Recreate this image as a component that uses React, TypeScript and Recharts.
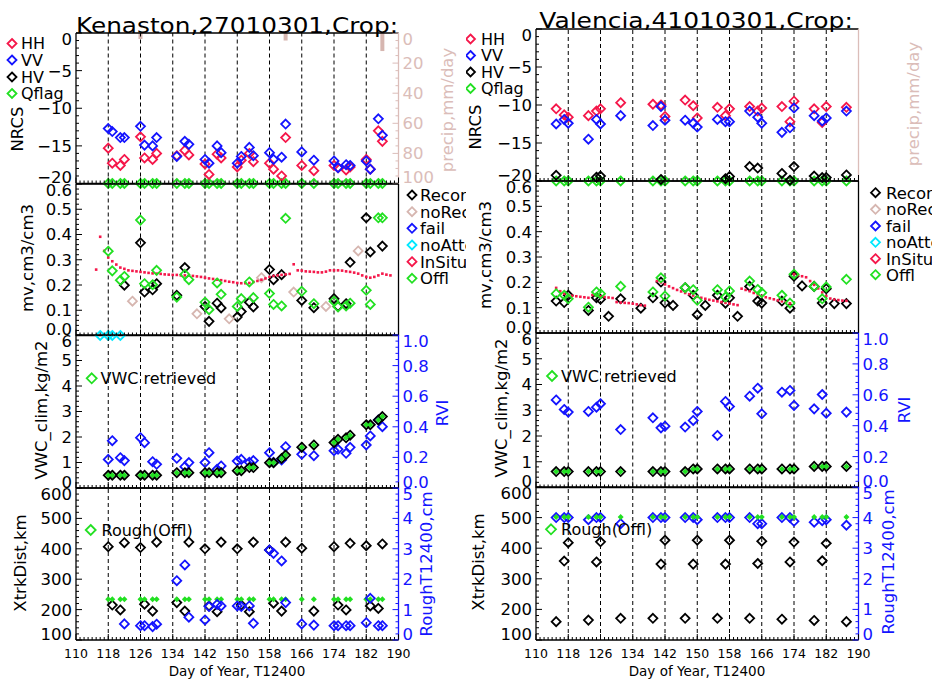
import React from 'react';
import { ComposedChart, Scatter, Bar, XAxis, YAxis, ReferenceLine } from 'recharts';

const FONT = 'DejaVu Sans, sans-serif';
const RED = '#f5174a';
const BLUE = '#1414ff';
const GREEN = '#22e022';
const CYAN = '#00e8ff';
const TAN = '#d6b6b0';
const PINK = '#dbbdb9';
const COL_W = 466;

// dashed day markers
const DASH_DAYS = [118, 126, 134, 142, 150, 158, 166, 174, 182];

// ---------- Kenaston (left) ----------
const KEN_DAYS = [118, 119, 121, 122, 126, 127, 129, 130, 135, 137, 138, 142, 143, 145, 146, 150, 151, 153, 154, 158, 159, 161, 162, 166, 169, 174, 175, 177, 178, 182, 183, 185, 186];
const KEN_HH = [-15.3, -17.3, -17.6, -16.8, -13.8, -16.6, -16.8, -16.0, -16.3, -15.6, -16.2, -17.4, -18.8, -16.1, -16.6, -17.8, -16.9, -16.0, -17.1, -17.3, -18.1, -19.0, -13.9, -17.6, -18.3, -17.6, -17.9, -18.2, -17.8, -16.8, -18.1, -13.0, -14.4];
const KEN_VV = [-12.7, -13.1, -13.9, -13.9, -12.4, -14.9, -15.0, -13.9, -16.4, -14.4, -14.8, -16.8, -17.3, -15.0, -15.9, -17.3, -16.4, -15.2, -16.3, -15.9, -16.8, -16.5, -12.1, -15.8, -16.9, -17.0, -17.9, -17.5, -17.6, -17.0, -18.1, -11.4, -13.6];
const KEN_QFLAG = [-20, -20, -20, -20, -20, -20, -20, -20, -20, -20, -20, -20, -20, -20, -20, -20, -20, -20, -20, -20, -20, -20, -20, -20, -20, -20, -20, -20, -20, -20, -20, -20, -20];
const KEN_PRECIP_DAYS = [126, 162, 186];
const KEN_PRECIP = [4, 5, 12];

const KEN_RECON_DAYS = [122, 126, 127, 129, 130, 135, 137, 142, 143, 145, 146, 150, 151, 153, 154, 158, 159, 161, 166, 169, 174, 175, 177, 178, 182, 183, 186];
const KEN_RECON = [0.199, 0.367, 0.172, 0.181, 0.205, 0.159, 0.269, 0.115, 0.056, 0.128, 0.109, 0.073, 0.095, 0.132, 0.113, 0.261, 0.221, 0.241, 0.139, 0.11, 0.146, 0.115, 0.126, 0.29, 0.466, 0.331, 0.354];
const KEN_NOREC_DAYS = [124, 140, 148, 156, 164, 172, 180];
const KEN_NOREC = [0.136, 0.086, 0.066, 0.229, 0.172, 0.115, 0.335];
const KEN_NOATT_DAYS = [116, 118, 119, 121];
const KEN_NOATT = [0, 0, 0, 0];
const KEN_OFFL = [0.334, 0.256, 0.219, 0.234, 0.457, 0.205, 0.201, 0.258, 0.152, 0.242, 0.221, 0.132, 0.102, 0.208, 0.163, 0.115, 0.146, 0.212, 0.15, 0.166, 0.123, 0.117, 0.464, 0.175, 0.126, 0.136, 0.113, 0.117, 0.128, 0.179, 0.123, 0.466, 0.466];
const KEN_INSITU_DAYS = [
  115, 116, 117, 118, 119, 120, 121, 122, 123, 124, 125, 126, 127, 128, 129, 130, 131, 132, 133, 134,
  135, 136, 137, 138, 139, 140, 141, 142, 143, 144, 145, 146, 147, 148, 149, 150, 151, 152, 153, 154,
  155, 156, 157, 158, 159, 160, 161, 162, 163, 164, 165, 166, 167, 168, 169, 170, 171, 172, 173, 174,
  175, 176, 177, 178, 179, 180, 181, 182, 183, 184, 185, 186, 187, 188,
];
const KEN_INSITU = [
  0.261, 0.391, 0.335, 0.309, 0.294, 0.281, 0.269, 0.264, 0.258, 0.256, 0.254, 0.252, 0.25, 0.248, 0.246, 0.245, 0.244, 0.242, 0.241, 0.24,
  0.24, 0.238, 0.238, 0.237, 0.236, 0.234, 0.232, 0.229, 0.226, 0.224, 0.221, 0.219, 0.216, 0.213, 0.211, 0.208, 0.207, 0.207, 0.208, 0.212,
  0.216, 0.221, 0.226, 0.232, 0.236, 0.238, 0.24, 0.242, 0.244, 0.282, 0.258, 0.257, 0.254, 0.253, 0.252, 0.25, 0.25, 0.253, 0.258, 0.258,
  0.258, 0.257, 0.254, 0.252, 0.249, 0.245, 0.238, 0.232, 0.229, 0.232, 0.238, 0.245, 0.241, 0.238,
];

const KEN_VWC = [0.5, 0.5, 0.5, 0.5, 0.5, 0.5, 0.5, 0.5, 0.6, 0.6, 0.6, 0.6, 0.6, 0.6, 0.6, 0.68, 0.68, 0.8, 0.8, 0.99, 0.99, 1.16, 1.29, 1.6, 1.69, 1.78, 1.91, 1.97, 2.07, 2.48, 2.48, 2.67, 2.8];
const KEN_RVI = [0.187, 0.309, 0.198, 0.179, 0.329, 0.296, 0.172, 0.155, 0.194, 0.139, 0.166, 0.166, 0.231, 0.122, 0.144, 0.176, 0.187, 0.168, 0.179, 0.231, 0.168, 0.183, 0.27, 0.22, 0.211, 0.244, 0.253, 0.227, 0.266, 0.281, 0.34, 0.444, 0.401];

const KEN_XTRK = [407, 215, 199, 420, 404, 218, 195, 422, 223, 195, 422, 400, 212, 193, 422, 400, 215, 193, 422, 396, 221, 195, 422, 402, 195, 407, 215, 199, 418, 410, 212, 204, 416];
const KEN_ROUGH_DAYS = [122, 126, 127, 129, 130, 135, 137, 138, 142, 143, 145, 146, 150, 151, 153, 154, 158, 159, 161, 162, 166, 169, 174, 175, 177, 178, 182, 183, 185, 186];
const KEN_ROUGH = [0.53, 0.47, 0.47, 0.44, 0.52, 1.95, 2.47, 0.75, 0.66, 1.1, 1.17, 1.12, 1.12, 1.1, 1.12, 0.55, 2.96, 2.85, 2.6, 1.23, 0.53, 0.49, 0.47, 0.47, 0.47, 0.47, 0.57, 1.37, 0.47, 0.47];
const KEN_ROUGH_OFFL = [1.34, 1.34, 1.34, 1.34, 1.34, 1.34, 1.34, 1.34, 1.34, 1.34, 1.34, 1.34, 1.34, 1.34, 1.34, 1.34, 1.34, 1.34, 1.34, 1.34, 1.34, 1.34, 1.34, 1.34, 1.34, 1.34, 1.34, 1.34, 1.34, 1.34, 1.34, 1.34, 1.34];

// ---------- Valencia (right) ----------
const VAL_DAYS = [115, 117, 118, 123, 125, 126, 131, 139, 141, 142, 147, 149, 150, 155, 157, 158, 163, 165, 166, 171, 173, 174, 179, 181, 182, 187];
const VAL_HH = [-10.5, -11.3, -11.6, -11.4, -10.8, -10.5, -9.7, -9.9, -10.0, -11.5, -9.35, -10.1, -11.7, -10.3, -11.4, -10.5, -10.2, -10.8, -10.4, -10.2, -12.2, -9.5, -10.5, -12.3, -10.2, -10.3];
const VAL_VV = [-12.5, -11.9, -12.4, -14.5, -11.9, -12.5, -11.4, -12.7, -10.2, -12.0, -12.0, -12.4, -12.9, -11.9, -12.2, -12.2, -10.8, -11.6, -12.4, -13.6, -13.0, -10.4, -11.4, -12.1, -11.7, -10.8];
const VAL_HV_DAYS = [115, 125, 126, 141, 157, 158, 163, 165, 171, 173, 174, 179, 181, 182, 187];
const VAL_HV = [-19.25, -19.5, -19.35, -19.8, -19.7, -19.4, -18.1, -18.3, -19.0, -19.9, -18.1, -19.35, -19.55, -19.55, -19.2];
const VAL_QFLAG = [-20, -20, -20, -20, -20, -20, -20, -20, -20, -20, -20, -20, -20, -20, -20, -20, -20, -20, -20, -20, -20, -20, -20, -20, -20, -20];

const VAL_RECON_DAYS = [115, 117, 118, 123, 125, 126, 128, 131, 136, 139, 141, 142, 144, 147, 149, 150, 152, 155, 157, 158, 160, 163, 165, 166, 171, 173, 174, 176, 179, 181, 182, 184, 187];
const VAL_RECON = [0.126, 0.12, 0.149, 0.089, 0.139, 0.133, 0.066, 0.135, 0.098, 0.139, 0.201, 0.119, 0.109, 0.179, 0.149, 0.072, 0.109, 0.149, 0.118, 0.139, 0.066, 0.184, 0.126, 0.118, 0.126, 0.098, 0.224, 0.186, 0.184, 0.118, 0.175, 0.116, 0.116];
const VAL_OFFL = [0.155, 0.149, 0.135, 0.102, 0.162, 0.155, 0.184, 0.162, 0.218, 0.146, 0.179, 0.171, 0.129, 0.171, 0.142, 0.166, 0.205, 0.172, 0.159, 0.149, 0.118, 0.232, 0.184, 0.135, 0.182, 0.212];
const VAL_INSITU_DAYS = [
  115, 116, 117, 118, 119, 120, 121, 122, 123, 124, 125, 126, 127, 128, 129, 130, 131, 132, 133, 134, 135, 136, 137,
  140, 141, 142, 143, 144, 145, 146, 147, 148, 149, 150, 151, 152, 153, 154, 155, 156, 157, 158, 159, 160,
  161, 162, 163, 164, 165, 166, 167, 168, 169, 170, 171, 172, 173,
  174, 175, 176, 177, 178, 179, 180, 181, 182, 183, 184, 185, 186, 187,
];
const VAL_INSITU = [
  0.178, 0.165, 0.155, 0.15, 0.147, 0.145, 0.143, 0.141, 0.139, 0.15, 0.148, 0.145, 0.142, 0.14, 0.138, 0.122, 0.12, 0.119, 0.118, 0.116, 0.113, 0.11, 0.108,
  0.205, 0.2, 0.192, 0.184, 0.177, 0.17, 0.164, 0.158, 0.153, 0.148, 0.143, 0.139, 0.135, 0.131, 0.128, 0.125, 0.122, 0.119, 0.116, 0.113, 0.11,
  0.175, 0.17, 0.165, 0.158, 0.152, 0.146, 0.141, 0.137, 0.133, 0.129, 0.125, 0.121, 0.117,
  0.232, 0.228, 0.224, 0.22, 0.205, 0.19, 0.176, 0.16, 0.146, 0.136, 0.132, 0.13, 0.128, 0.127,
];

const VAL_VWC = [0.62, 0.62, 0.62, 0.62, 0.62, 0.62, 0.62, 0.62, 0.62, 0.62, 0.62, 0.72, 0.72, 0.72, 0.72, 0.72, 0.72, 0.72, 0.72, 0.72, 0.72, 0.72, 0.82, 0.82, 0.82, 0.82];
const VAL_RVI = [0.567, 0.505, 0.488, 0.492, 0.52, 0.542, 0.375, 0.451, 0.386, 0.397, 0.391, 0.434, 0.492, 0.337, 0.557, 0.524, 0.591, 0.643, 0.477, 0.617, 0.628, 0.531, 0.509, 0.602, 0.481, 0.488];

const VAL_XTRK = [160, 358, 418, 165, 355, 421, 171, 171, 348, 426, 171, 348, 426, 171, 348, 426, 171, 350, 423, 168, 355, 420, 164, 359, 416, 160];
const VAL_ROUGH = [4.0, 4.0, 4.0, 3.93, 4.0, 4.0, 3.8, 4.0, 4.0, 4.0, 4.0, 4.0, 3.93, 4.0, 4.0, 4.0, 4.0, 3.8, 3.8, 4.0, 4.0, 3.88, 3.85, 3.9, 3.93, 3.75];
const VAL_ROUGH_OFFL = [4.02, 4.02, 4.02, 4.02, 4.02, 4.02, 4.02, 4.02, 4.02, 4.02, 4.02, 4.02, 4.02, 4.02, 4.02, 4.02, 4.02, 4.02, 4.02, 4.02, 4.02, 4.02, 4.02, 4.02, 4.02, 4.02];

const P1_LEGEND = ['HH', 'VV', 'HV', 'Qflag'];
const P1_COLORS = [RED, BLUE, '#000', GREEN];
const P2_LEGEND = ['Recon', 'noRecon', 'fail', 'noAttempt', 'InSitu', 'Offl'];
const P2_COLORS = ['#000', TAN, BLUE, CYAN, RED, GREEN];

// ---------- helpers ----------
const steps = (lo: number, hi: number, st: number) => {
  const n = Math.round((hi - lo) / st);
  return Array.from({ length: n + 1 }, (_, i) => +(lo + i * st).toFixed(6));
};
const X_TICKS = steps(110, 190, 1);
const pts = (days: number[], vals: number[]) => days.map((day, i) => ({ day, v: vals[i] }));
const dpath = (x: number, y: number, r: number) => `M${x},${y - r}L${x + r},${y}L${x},${y + r}L${x - r},${y}Z`;

const diamond = (color: string, r = 4.5) => (p: any) => (
  <path d={dpath(p.cx, p.cy, r)} fill="none" stroke={color} strokeWidth={1.8} />
);
const solid = (color: string, r = 3) => (p: any) => <path d={dpath(p.cx, p.cy, r)} fill={color} />;
const dot = (color: string) => (p: any) => <rect x={p.cx - 1.3} y={p.cy - 1.3} width={2.6} height={2.6} fill={color} />;

const sc = (key: string, data: any[], axis: string, shape: any) => (
  <Scatter key={key} data={data} dataKey="v" xAxisId="b" yAxisId={axis} shape={shape} isAnimationActive={false} />
);

type YCfg = {
  domain: [number, number];
  ticks: number[];
  major: number;
  color: string;
  labels: boolean;
  fmt: (v: number) => string;
  reversed?: boolean;
};

const fInt = (v: number) => (v < 0 ? '\u2212' + -v : String(v));
const f1 = (v: number) => v.toFixed(1);

const NRCS: YCfg = { domain: [-20, 0], ticks: steps(-20, 0, 1), major: 5, color: '#000', labels: true, fmt: fInt };
const PRECIP: YCfg = { domain: [0, 100], ticks: steps(0, 100, 5), major: 20, color: PINK, labels: true, fmt: fInt, reversed: true };
const MV: YCfg = { domain: [0, 0.6], ticks: steps(0, 0.6, 0.02), major: 0.1, color: '#000', labels: true, fmt: f1 };
const MV_R: YCfg = { ...MV, labels: false };
const VWC: YCfg = { domain: [0, 6], ticks: steps(0, 6, 0.2), major: 1, color: '#000', labels: true, fmt: fInt };
const RVI: YCfg = { domain: [0, 1], ticks: steps(0, 1, 0.04), major: 0.2, color: BLUE, labels: true, fmt: f1 };
const XTRK: YCfg = { domain: [100, 600], ticks: steps(100, 600, 20), major: 100, color: '#000', labels: true, fmt: fInt };
const ROUGH: YCfg = { domain: [0, 5], ticks: steps(0, 5, 0.2), major: 1, color: BLUE, labels: true, fmt: fInt };

const xTick = (labels: boolean, dir: number) => (p: any) => {
  const v = p.payload.value;
  const major = (v - 110) % 8 === 0;
  return (
    <g>
      <line x1={p.x} x2={p.x} y1={p.y} y2={p.y + dir * (major ? 6 : 3)} stroke="#000" strokeWidth={1} />
      {labels && major ? (
        <text x={p.x} y={p.y + 18} textAnchor="middle" fontSize={12.5} fontFamily={FONT} fill="#000">
          {v}
        </text>
      ) : null}
    </g>
  );
};

const yTick = (c: YCfg, side: 'l' | 'r') => (p: any) => {
  const v = p.payload.value;
  const q = v / c.major;
  const major = Math.abs(q - Math.round(q)) < 1e-6;
  const s = side === 'l' ? 1 : -1;
  const topVal = c.reversed ? c.domain[0] : c.domain[1];
  const botVal = c.reversed ? c.domain[1] : c.domain[0];
  let shift = 0;
  if (Math.abs(v - topVal) < 1e-9) shift = 6;
  if (Math.abs(v - botVal) < 1e-9) shift = -6;
  return (
    <g>
      <line x1={p.x} x2={p.x + s * (major ? 6 : 3)} y1={p.y} y2={p.y} stroke={c.color} strokeWidth={1} />
      {c.labels && major ? (
        <text
          x={p.x - s * 4}
          y={p.y + shift}
          dy="0.36em"
          textAnchor={side === 'l' ? 'end' : 'start'}
          fontSize={16.5}
          fontFamily={FONT}
          fill={c.color}
        >
          {c.fmt(v)}
        </text>
      ) : null}
    </g>
  );
};

type PanelProps = {
  top: number;
  bottom: number;
  plotL: number;
  plotR: number;
  yl: YCfg;
  yr: YCfg;
  xLabels?: boolean;
  data?: any[];
  children?: React.ReactNode;
};

function Panel({ top, bottom, plotL, plotR, yl, yr, xLabels = false, data, children }: PanelProps) {
  const MT = 12;
  const MB = xLabels ? 28 : 12;
  const h = bottom - top + MT + MB;
  return (
    <div style={{ position: 'absolute', left: 0, top: top - MT, width: COL_W, height: h }}>
      <ComposedChart width={COL_W} height={h} data={data} margin={{ top: 0, right: 0, bottom: 0, left: 0 }}>
        <XAxis xAxisId="b" dataKey="day" type="number" domain={[110, 190]} ticks={X_TICKS} interval={0}
          height={MB} tickSize={0} tickMargin={0} tickLine={false}
          axisLine={{ stroke: '#000', strokeWidth: 1.3 }} tick={xTick(xLabels, -1)} />
        <XAxis xAxisId="t" orientation="top" type="number" domain={[110, 190]} ticks={X_TICKS} interval={0}
          height={MT} tickSize={0} tickMargin={0} tickLine={false}
          axisLine={{ stroke: '#000', strokeWidth: 1.3 }} tick={xTick(false, 1)} />
        <YAxis yAxisId="l" type="number" domain={yl.domain} ticks={yl.ticks} interval={0} width={plotL}
          tickSize={0} tickMargin={0} tickLine={false} reversed={!!yl.reversed}
          axisLine={{ stroke: yl.color, strokeWidth: 1.3 }} tick={yTick(yl, 'l')} />
        <YAxis yAxisId="r" orientation="right" type="number" domain={yr.domain} ticks={yr.ticks} interval={0}
          width={COL_W - plotR} tickSize={0} tickMargin={0} tickLine={false} reversed={!!yr.reversed}
          axisLine={{ stroke: yr.color, strokeWidth: 1.3 }} tick={yTick(yr, 'r')} />
        {DASH_DAYS.map((d) => (
          <ReferenceLine key={d} x={d} xAxisId="b" yAxisId="l" stroke="#000" strokeDasharray="4 3" strokeWidth={1} />
        ))}
        {children}
      </ComposedChart>
    </div>
  );
}

type TextCfg = {
  title: string; titleX: number; titleY: number; titleLen: number;
  leg1: { dx: number; tx: number; ys: number[] };
  leg2: { dx: number; tx: number; ys: number[] };
  leg3: { dx: number; tx: number; y: number };
  leg4: { dx: number; tx: number; y: number };
  ytitles: number[][];
  rtitles: number[][];
  xTitleX: number;
};

const LEFT_TEXT: TextCfg = {
  title: 'Kenaston,27010301,Crop:', titleX: 76, titleY: 32.5, titleLen: 322,
  leg1: { dx: 12, tx: 21, ys: [43.5, 60, 77, 93.5] },
  leg2: { dx: 412, tx: 420, ys: [195, 211.7, 228.3, 245, 261.7, 278.3] },
  leg3: { dx: 91.7, tx: 100.5, y: 378.3 },
  leg4: { dx: 90.7, tx: 101.5, y: 530 },
  ytitles: [[17, 129], [27, 258], [41, 410], [20, 563]],
  rtitles: [[447, 110], [442, 413], [426, 564]],
  xTitleX: 237,
};
const RIGHT_TEXT: TextCfg = {
  title: 'Valencia,41010301,Crop:', titleX: 73.3, titleY: 28, titleLen: 313.5,
  leg1: { dx: 4.5, tx: 15, ys: [39, 55.5, 72, 88.5] },
  leg2: { dx: 409.5, tx: 420, ys: [192.7, 209.3, 226, 242.3, 258.7, 274.7] },
  leg3: { dx: 86, tx: 95, y: 376 },
  leg4: { dx: 85, tx: 95, y: 529.3 },
  ytitles: [[9, 127], [19, 255], [35, 408], [12, 562]],
  rtitles: [[447, 104], [438.5, 410], [422, 562]],
  xTitleX: 231,
};

const Y_TITLES = ['NRCS', 'mv,cm3/cm3', 'VWC_clim,kg/m2', 'XtrkDist,km'];
const R_TITLES = ['precip,mm/day', 'RVI', 'RoughT12400,cm'];
const R_COLORS = [PINK, BLUE, BLUE];

function Vtext({ x, y, children, color = '#000' }: { x: number; y: number; children: string; color?: string }) {
  return (
    <text x={x} y={y} dy="0.36em" transform={`rotate(-90 ${x} ${y})`} textAnchor="middle" fontSize={16.5} fill={color}>
      {children}
    </text>
  );
}

function Overlay({ t }: { t: TextCfg }) {
  return (
    <svg width={COL_W} height={679} style={{ position: 'absolute', left: 0, top: 0 }} fontFamily={FONT}>
      <text x={t.titleX} y={t.titleY} fontSize={21.5} textLength={t.titleLen} lengthAdjust="spacingAndGlyphs" fill="#000">
        {t.title}
      </text>
      {P1_LEGEND.map((l, i) => (
        <g key={l}>
          <path d={dpath(t.leg1.dx, t.leg1.ys[i], 4.5)} fill="none" stroke={P1_COLORS[i]} strokeWidth={1.8} />
          <text x={t.leg1.tx} y={t.leg1.ys[i]} dy="0.36em" fontSize={16} fill="#000">{l}</text>
        </g>
      ))}
      {P2_LEGEND.map((l, i) => (
        <g key={l}>
          <path d={dpath(t.leg2.dx, t.leg2.ys[i], 4.5)} fill="none" stroke={P2_COLORS[i]} strokeWidth={1.8} />
          <text x={t.leg2.tx} y={t.leg2.ys[i]} dy="0.36em" fontSize={16.5} fill="#000">{l}</text>
        </g>
      ))}
      <path d={dpath(t.leg3.dx, t.leg3.y, 5)} fill="none" stroke={GREEN} strokeWidth={1.8} />
      <text x={t.leg3.tx} y={t.leg3.y} dy="0.36em" fontSize={16} fill="#000">VWC retrieved</text>
      <path d={dpath(t.leg4.dx, t.leg4.y, 5)} fill="none" stroke={GREEN} strokeWidth={1.8} />
      <text x={t.leg4.tx} y={t.leg4.y} dy="0.36em" fontSize={16} fill="#000">Rough(Offl)</text>
      {Y_TITLES.map((s, i) => (
        <Vtext key={s} x={t.ytitles[i][0]} y={t.ytitles[i][1]}>{s}</Vtext>
      ))}
      {R_TITLES.map((s, i) => (
        <Vtext key={s} x={t.rtitles[i][0]} y={t.rtitles[i][1]} color={R_COLORS[i]}>{s}</Vtext>
      ))}
      <text x={t.xTitleX} y={676} textAnchor="middle" fontSize={13.5} fill="#000">Day of Year, T12400</text>
    </svg>
  );
}

const LC = { plotL: 76, plotR: 398.5, edges: [33, 183.5, 335, 488, 640] };
const RC = { plotL: 70, plotR: 392.5, edges: [28.5, 180.5, 332.5, 487, 640] };

export default function App() {
  const kenPrecipRows = KEN_PRECIP_DAYS.map((day, i) => ({ day, p: KEN_PRECIP[i] }));
  return (
    <div style={{ position: 'absolute', left: 0, top: 0, width: 932, height: 679, background: '#fff', fontFamily: FONT }}>
      {/* Kenaston */}
      <div style={{ position: 'absolute', left: 0, top: 0, width: COL_W, height: 679, overflow: 'hidden' }}>
        <Panel top={LC.edges[0]} bottom={LC.edges[1]} plotL={LC.plotL} plotR={LC.plotR} yl={NRCS} yr={PRECIP} data={kenPrecipRows}>
          <Bar dataKey="p" xAxisId="b" yAxisId="r" fill={TAN} barSize={4} isAnimationActive={false} />
          {sc('q', pts(KEN_DAYS, KEN_QFLAG), 'l', diamond(GREEN))}
          {sc('hh', pts(KEN_DAYS, KEN_HH), 'l', diamond(RED))}
          {sc('vv', pts(KEN_DAYS, KEN_VV), 'l', diamond(BLUE))}
        </Panel>
        <Panel top={LC.edges[1]} bottom={LC.edges[2]} plotL={LC.plotL} plotR={LC.plotR} yl={MV} yr={MV_R}>
          {sc('rec', pts(KEN_RECON_DAYS, KEN_RECON), 'l', diamond('#000'))}
          {sc('norec', pts(KEN_NOREC_DAYS, KEN_NOREC), 'l', diamond(TAN))}
          {sc('noatt', pts(KEN_NOATT_DAYS, KEN_NOATT), 'l', diamond(CYAN))}
          {sc('ins', pts(KEN_INSITU_DAYS, KEN_INSITU), 'l', dot(RED))}
          {sc('offl', pts(KEN_DAYS, KEN_OFFL), 'l', diamond(GREEN))}
        </Panel>
        <Panel top={LC.edges[2]} bottom={LC.edges[3]} plotL={LC.plotL} plotR={LC.plotR} yl={VWC} yr={RVI}>
          {sc('rvi', pts(KEN_DAYS, KEN_RVI), 'r', diamond(BLUE))}
          {sc('vwc', pts(KEN_DAYS, KEN_VWC), 'l', diamond('#000'))}
          {sc('vwcr', pts(KEN_DAYS, KEN_VWC), 'l', solid(GREEN, 3))}
        </Panel>
        <Panel top={LC.edges[3]} bottom={LC.edges[4]} plotL={LC.plotL} plotR={LC.plotR} yl={XTRK} yr={ROUGH} xLabels>
          {sc('xt', pts(KEN_DAYS, KEN_XTRK), 'l', diamond('#000'))}
          {sc('ro', pts(KEN_DAYS, KEN_ROUGH_OFFL), 'r', solid(GREEN, 3))}
          {sc('rg', pts(KEN_ROUGH_DAYS, KEN_ROUGH), 'r', diamond(BLUE))}
        </Panel>
        <Overlay t={LEFT_TEXT} />
      </div>
      {/* Valencia */}
      <div style={{ position: 'absolute', left: COL_W, top: 0, width: COL_W, height: 679, overflow: 'hidden' }}>
        <Panel top={RC.edges[0]} bottom={RC.edges[1]} plotL={RC.plotL} plotR={RC.plotR} yl={NRCS} yr={PRECIP}>
          {sc('q', pts(VAL_DAYS, VAL_QFLAG), 'l', diamond(GREEN))}
          {sc('hv', pts(VAL_HV_DAYS, VAL_HV), 'l', diamond('#000'))}
          {sc('hh', pts(VAL_DAYS, VAL_HH), 'l', diamond(RED))}
          {sc('vv', pts(VAL_DAYS, VAL_VV), 'l', diamond(BLUE))}
        </Panel>
        <Panel top={RC.edges[1]} bottom={RC.edges[2]} plotL={RC.plotL} plotR={RC.plotR} yl={MV} yr={MV_R}>
          {sc('rec', pts(VAL_RECON_DAYS, VAL_RECON), 'l', diamond('#000'))}
          {sc('ins', pts(VAL_INSITU_DAYS, VAL_INSITU), 'l', dot(RED))}
          {sc('offl', pts(VAL_DAYS, VAL_OFFL), 'l', diamond(GREEN))}
        </Panel>
        <Panel top={RC.edges[2]} bottom={RC.edges[3]} plotL={RC.plotL} plotR={RC.plotR} yl={VWC} yr={RVI}>
          {sc('rvi', pts(VAL_DAYS, VAL_RVI), 'r', diamond(BLUE))}
          {sc('vwc', pts(VAL_DAYS, VAL_VWC), 'l', diamond('#000'))}
          {sc('vwcr', pts(VAL_DAYS, VAL_VWC), 'l', solid(GREEN, 3))}
        </Panel>
        <Panel top={RC.edges[3]} bottom={RC.edges[4]} plotL={RC.plotL} plotR={RC.plotR} yl={XTRK} yr={ROUGH} xLabels>
          {sc('xt', pts(VAL_DAYS, VAL_XTRK), 'l', diamond('#000'))}
          {sc('rg', pts(VAL_DAYS, VAL_ROUGH), 'r', diamond(BLUE))}
          {sc('ro', pts(VAL_DAYS, VAL_ROUGH_OFFL), 'r', solid(GREEN, 3))}
        </Panel>
        <Overlay t={RIGHT_TEXT} />
      </div>
    </div>
  );
}
